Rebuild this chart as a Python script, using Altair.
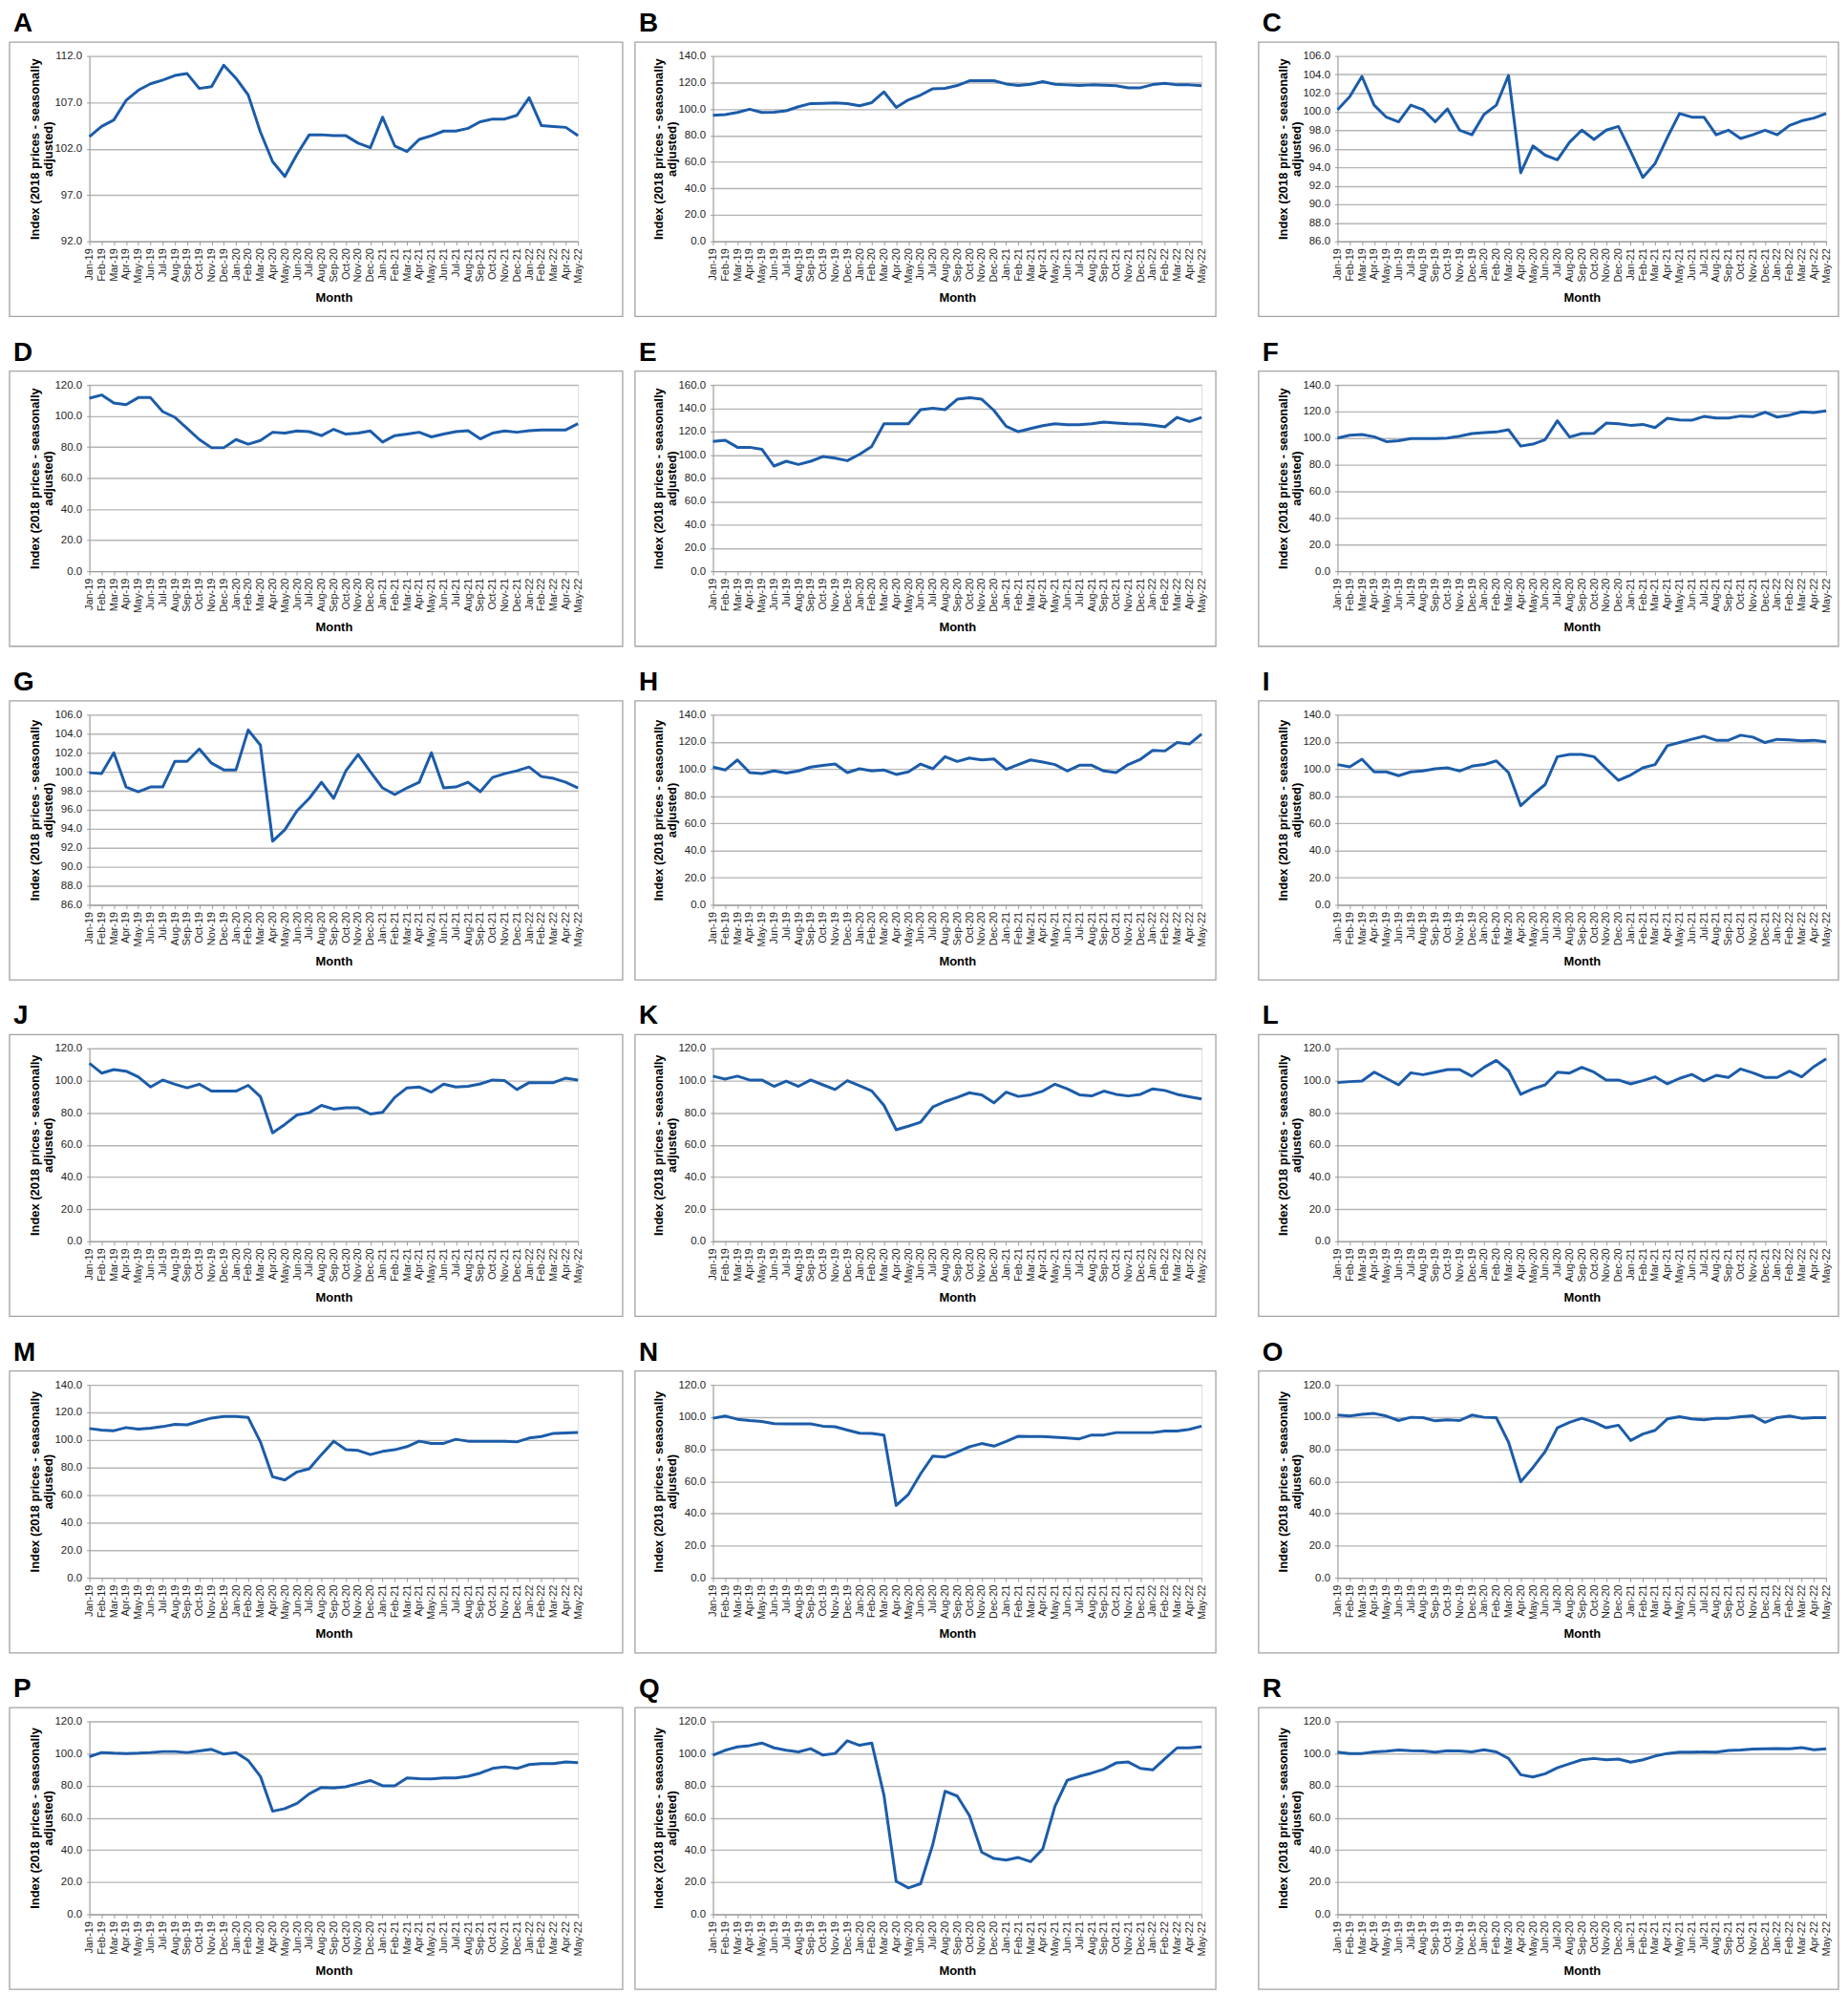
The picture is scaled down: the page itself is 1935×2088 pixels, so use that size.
import altair as alt
import pandas as pd

MONTHS = ["Jan-19", "Feb-19", "Mar-19", "Apr-19", "May-19", "Jun-19", "Jul-19", "Aug-19",
          "Sep-19", "Oct-19", "Nov-19", "Dec-19", "Jan-20", "Feb-20", "Mar-20", "Apr-20",
          "May-20", "Jun-20", "Jul-20", "Aug-20", "Sep-20", "Oct-20", "Nov-20", "Dec-20",
          "Jan-21", "Feb-21", "Mar-21", "Apr-21", "May-21", "Jun-21", "Jul-21", "Aug-21",
          "Sep-21", "Oct-21", "Nov-21", "Dec-21", "Jan-22", "Feb-22", "Mar-22", "Apr-22",
          "May-22"]

LETTERS = ["A", "B", "C", "D", "E", "F", "G", "H", "I",
           "J", "K", "L", "M", "N", "O", "P", "Q", "R"]

A = [103.3, 104.4, 105.1, 107.2, 108.3, 109.0, 109.4, 109.9, 110.1, 108.5, 108.7, 111.0, 109.6, 107.8,
     103.8, 100.6, 99.0, 101.4, 103.5, 103.5, 103.4, 103.4, 102.6, 102.1, 105.4, 102.3, 101.7, 103.0,
     103.4, 103.9, 103.9, 104.2, 104.9, 105.2, 105.2, 105.6, 107.5, 104.5, 104.4, 104.3, 103.4]
B = [95.2, 95.7, 97.4, 99.8, 97.4, 97.6, 98.6, 101.7, 104.1, 104.3, 104.5, 104.1, 102.4, 104.8,
     112.9, 101.2, 106.9, 110.5, 115.3, 115.6, 117.7, 121.3, 121.3, 121.3, 118.9, 117.7, 118.7, 120.6,
     118.7, 118.2, 117.7, 118.2, 117.9, 117.5, 116.0, 116.0, 118.4, 119.4, 118.2, 118.2, 117.5]
C = [100.2, 101.6, 103.8, 100.7, 99.4, 98.9, 100.7, 100.2, 98.9, 100.3, 98.0, 97.5, 99.7, 100.7,
     103.9, 93.4, 96.3, 95.3, 94.8, 96.7, 98.0, 97.0, 98.0, 98.4, 95.7, 92.9, 94.4, 97.2,
     99.8, 99.4, 99.4, 97.5, 98.0, 97.1, 97.5, 98.0, 97.5, 98.5, 99.0, 99.3, 99.8]
D = [111.4, 113.5, 108.3, 107.3, 111.8, 111.8, 102.8, 99.1, 92.0, 84.8, 79.5, 79.5, 84.8, 81.8,
     84.2, 89.5, 88.9, 90.3, 89.9, 87.3, 91.4, 88.3, 88.9, 90.3, 83.2, 87.3, 88.3, 89.5,
     86.5, 88.3, 89.9, 90.5, 85.2, 88.9, 90.3, 89.5, 90.5, 91.0, 91.0, 91.0, 95.0]
E = [111.5, 112.5, 106.4, 106.4, 104.7, 90.3, 94.4, 91.6, 94.4, 98.5, 97.1, 94.9, 100.4, 107.2,
     126.6, 126.6, 126.6, 138.7, 140.0, 138.7, 147.7, 149.0, 147.7, 138.1, 124.4, 119.8, 122.5, 125.0,
     126.6, 125.8, 125.8, 126.6, 128.0, 127.2, 126.6, 126.4, 125.3, 123.9, 132.1, 128.5, 132.1]
F = [100.0, 102.2, 102.7, 101.0, 97.4, 98.1, 99.6, 99.6, 99.6, 100.0, 101.5, 103.4, 104.1, 104.6,
     106.3, 94.0, 95.5, 98.9, 113.0, 100.8, 103.4, 103.6, 111.3, 110.8, 109.6, 110.3, 107.9, 114.9,
     113.7, 113.4, 116.3, 115.1, 115.1, 116.6, 116.1, 119.4, 115.8, 117.3, 119.7, 119.2, 120.4]
G = [99.9, 99.8, 102.0, 98.4, 97.9, 98.4, 98.4, 101.1, 101.1, 102.4, 100.9, 100.2, 100.2, 104.4,
     102.8, 92.7, 93.9, 95.9, 97.2, 98.9, 97.2, 100.1, 101.8, 100.0, 98.3, 97.6, 98.3, 98.9,
     102.0, 98.3, 98.4, 98.9, 97.9, 99.4, 99.8, 100.1, 100.5, 99.5, 99.3, 98.9, 98.3]
H = [101.4, 99.3, 106.7, 97.4, 96.7, 98.6, 97.0, 98.6, 101.4, 102.6, 103.7, 97.4, 100.2, 98.6,
     99.3, 96.0, 97.9, 103.7, 100.2, 109.1, 105.6, 108.1, 106.7, 107.4, 99.8, 103.3, 106.7, 105.1,
     103.3, 98.6, 102.8, 102.8, 98.6, 97.4, 103.3, 107.2, 113.7, 113.3, 119.5, 118.4, 125.8]
I = [103.3, 101.6, 107.2, 97.9, 97.9, 95.1, 97.9, 98.6, 100.2, 100.9, 98.6, 102.1, 103.3, 106.0,
     97.4, 73.0, 81.2, 88.6, 109.1, 110.7, 110.7, 109.1, 100.2, 91.6, 95.6, 100.9, 103.3, 117.2,
     119.5, 121.9, 124.2, 121.2, 121.2, 124.9, 123.5, 119.5, 121.9, 121.4, 120.7, 121.2, 120.0]
J = [110.7, 104.6, 106.8, 105.8, 102.3, 96.0, 100.3, 97.7, 95.4, 97.7, 93.4, 93.4, 93.4, 97.0,
     90.0, 67.4, 72.7, 78.6, 80.0, 84.5, 82.2, 83.0, 83.0, 79.2, 80.2, 89.5, 95.4, 96.0,
     92.8, 97.7, 96.0, 96.4, 97.9, 100.3, 99.9, 94.4, 98.7, 98.7, 98.7, 101.5, 100.3]
K = [102.7, 100.9, 102.7, 100.3, 100.3, 96.4, 99.6, 96.4, 100.3, 97.3, 94.4, 99.9, 96.8, 93.5,
     84.5, 69.4, 71.6, 74.1, 83.5, 86.9, 89.5, 92.4, 91.1, 86.1, 92.8, 90.1, 91.1, 93.4,
     97.7, 94.8, 91.1, 90.4, 93.4, 91.4, 90.4, 91.4, 94.8, 93.8, 91.4, 89.9, 88.5]
L = [98.7, 99.3, 99.7, 105.2, 101.3, 97.3, 104.8, 103.6, 105.2, 106.8, 106.8, 102.7, 108.2, 112.5,
     106.2, 91.4, 94.8, 97.3, 105.2, 104.6, 108.2, 105.2, 100.3, 100.3, 97.9, 99.9, 102.3, 97.9,
     101.3, 103.8, 99.7, 103.2, 101.9, 107.2, 104.8, 101.9, 101.9, 105.8, 102.3, 108.6, 113.5]
M = [108.3, 107.1, 106.7, 109.0, 107.8, 108.5, 109.7, 111.3, 111.0, 113.6, 115.9, 117.0, 117.0, 116.3,
     98.6, 73.3, 71.0, 76.8, 79.1, 89.4, 99.1, 92.9, 92.4, 89.4, 91.7, 92.9, 95.2, 99.1,
     97.5, 97.5, 100.5, 99.1, 99.1, 99.1, 99.1, 98.6, 101.4, 102.5, 104.8, 105.1, 105.5]
N = [99.2, 100.6, 98.6, 97.8, 97.2, 95.9, 95.7, 95.7, 95.7, 94.3, 93.9, 91.9, 89.9, 89.8,
     88.8, 45.0, 51.9, 64.7, 75.7, 75.1, 78.1, 81.5, 83.5, 81.9, 84.8, 88.0, 87.8, 87.8,
     87.4, 87.0, 86.4, 88.8, 88.8, 90.3, 90.3, 90.3, 90.3, 91.3, 91.3, 92.3, 94.3]
O = [101.2, 100.6, 101.6, 102.2, 100.6, 97.8, 99.8, 99.6, 97.6, 98.2, 97.8, 101.2, 99.8, 99.6,
     84.4, 59.7, 68.6, 78.5, 93.3, 96.7, 99.2, 96.8, 93.3, 94.9, 85.4, 89.4, 91.7, 98.8,
     100.2, 98.8, 98.2, 99.2, 99.2, 100.2, 100.8, 96.7, 99.6, 100.6, 99.2, 99.6, 99.6]
P = [98.0, 100.6, 100.2, 100.0, 100.2, 100.6, 101.2, 101.2, 100.6, 101.6, 102.6, 99.6, 100.6, 95.7,
     85.8, 64.1, 65.7, 69.0, 74.9, 78.9, 78.5, 79.3, 81.3, 83.2, 79.9, 79.9, 84.8, 84.4,
     84.2, 84.8, 84.8, 85.8, 87.8, 90.7, 91.7, 90.7, 93.1, 93.7, 93.7, 94.7, 94.3]
Q = [99.0, 102.0, 104.1, 104.9, 106.5, 103.5, 102.0, 101.0, 103.0, 99.0, 100.0, 107.9, 105.1, 106.5,
     74.0, 20.5, 16.4, 19.0, 43.5, 76.5, 73.5, 61.3, 38.6, 34.7, 33.7, 35.3, 32.7, 40.6,
     67.2, 83.3, 85.8, 87.8, 90.2, 94.1, 94.7, 90.7, 89.8, 96.7, 103.5, 103.5, 104.1]
R = [100.8, 100.0, 100.0, 101.0, 101.4, 102.1, 101.7, 101.6, 100.8, 101.7, 101.6, 101.0, 102.3, 101.0,
     96.9, 86.8, 85.4, 87.4, 91.1, 93.6, 96.1, 96.9, 96.1, 96.5, 94.6, 96.1, 98.4, 100.0,
     100.8, 100.8, 101.0, 100.8, 101.9, 102.1, 102.7, 102.9, 103.1, 102.9, 103.7, 102.3, 102.9]

SERIES = [A, B, C, D, E, F, G, H, I, J, K, L, M, N, O, P, Q, R]

# y axis (min, max, step) per panel
Y_AXES = [(92, 112, 5), (0, 140, 20), (86, 106, 2),
          (0, 120, 20), (0, 160, 20), (0, 140, 20),
          (86, 106, 2), (0, 140, 20), (0, 140, 20),
          (0, 120, 20), (0, 120, 20), (0, 120, 20),
          (0, 140, 20), (0, 120, 20), (0, 120, 20),
          (0, 120, 20), (0, 120, 20), (0, 120, 20)]

Y_TITLE = ["Index (2018 prices - seasonally", "adjusted)"]

# layout (pixels)
W = 514
ROW_H = [195, 196, 200, 203, 203, 203]
FRAME_L = [-84, -82, -83]
FRAME_R = [47, 15, 13]
FRAME_TOP = -14.5
FRAME_BOTTOM = 79
COL2_PAD = 33
BLUE = "#1b5ca9"
FONT = "Liberation Sans"

for s in SERIES:
    assert len(s) == len(MONTHS), len(s)


def panel(i):
    r, c = divmod(i, 3)
    h = ROW_H[r]
    lo, hi, step = Y_AXES[i]
    n = int(round((hi - lo) / step))
    ticks = [lo + step * k for k in range(n + 1)]
    df = pd.DataFrame({"Month": MONTHS, "Value": SERIES[i]})
    one = pd.DataFrame({"k": [0]})

    line = alt.Chart(df).mark_line(color=BLUE, strokeWidth=3, strokeJoin="round").encode(
        x=alt.X("Month:N", sort=MONTHS,
                scale=alt.Scale(type="point", padding=0),
                axis=alt.Axis(labelAngle=270, labelFontSize=11, labelPadding=3,
                              labelColor="#1e1e1e", labelFont=FONT,
                              tickSize=4, tickColor="#9a9a9a", domainColor="#9a9a9a",
                              grid=False, title="Month", titleX=W / 2, titleY=59,
                              titleAlign="center", titleBaseline="middle",
                              titleFontSize=13, titleFontWeight="bold",
                              titleFont=FONT, titleColor="#000000")),
        y=alt.Y("Value:Q",
                scale=alt.Scale(domain=[lo, hi], nice=False, zero=False),
                axis=alt.Axis(values=ticks, format=".1f", labelFontSize=11.5,
                              labelPadding=5, labelColor="#1e1e1e", labelFont=FONT,
                              tickSize=3, tickColor="#9a9a9a", domainColor="#9a9a9a",
                              grid=True, gridColor="#b5b5b5", gridWidth=1.4,
                              title=Y_TITLE, titleAngle=270, titleX=-57.5, titleY=h / 2,
                              titleAlign="center", titleBaseline="middle",
                              titleLineHeight=14, titleFontSize=13,
                              titleFontWeight="bold", titleFont=FONT,
                              titleColor="#000000")),
    )

    frame = alt.Chart(one).mark_rect(fillOpacity=0, stroke="#a3a3a3", strokeWidth=1.3).encode(
        x=alt.value(FRAME_L[c]), x2=alt.value(W + FRAME_R[c]),
        y=alt.value(FRAME_TOP), y2=alt.value(h + FRAME_BOTTOM))

    letter = alt.Chart(one).mark_text(
        align="left", baseline="alphabetic", fontSize=28, fontWeight="bold",
        font=FONT, color="#000000").encode(
        x=alt.value(FRAME_L[c] + 4), y=alt.value(-25.5), text=alt.value(LETTERS[i]))

    layers = [frame, line, letter]
    if c == 1:
        pad = alt.Chart(one).mark_rect(fill="white", strokeWidth=0).encode(
            x=alt.value(W + FRAME_R[c] + 2), x2=alt.value(W + FRAME_R[c] + COL2_PAD),
            y=alt.value(0), y2=alt.value(10))
        layers.append(pad)
    return alt.layer(*layers).properties(width=W, height=h)


chart = alt.concat(*[panel(i) for i in range(18)], columns=3,
                   spacing={"row": 22, "column": 9}).properties(
    padding={"top": -2, "left": 0, "right": 0, "bottom": 0},
    bounds="full", align="each"
).configure_view(stroke="transparent").configure(background="white")

chart.save("out.html", embed_options={"renderer": "svg", "actions": False})
